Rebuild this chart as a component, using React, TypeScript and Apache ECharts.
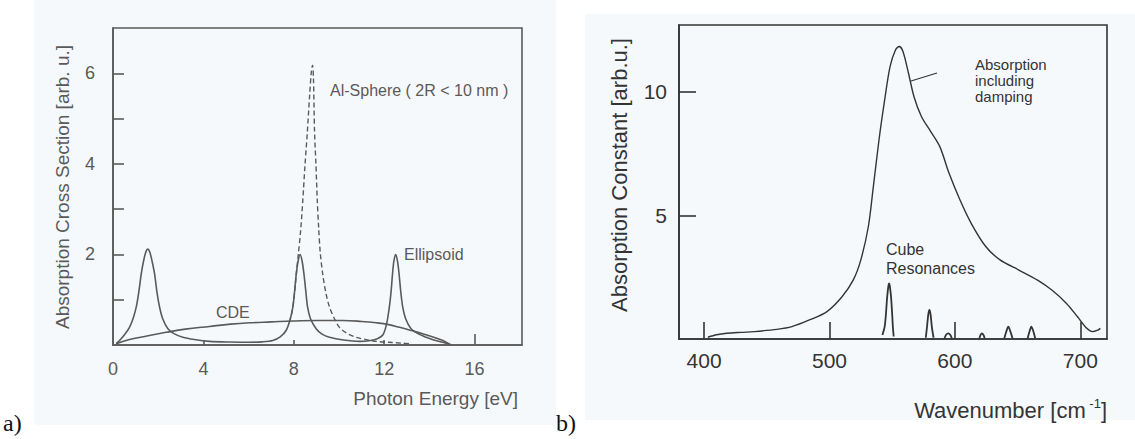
import React, { useEffect, useRef } from "react";
import * as echarts from "echarts";

// ---------- Panel a) : Photon energy [eV] vs absorption cross section ----------
const aXLabels = [0, 4, 8, 12, 16];
const aXTicks = [4, 8, 12];
const aXTickLong = [16];
const aYLabels = [2, 4, 6];
const aYTicks = [1, 2, 3, 4, 5, 6];

const ellipsoid: [number, number][] = [
  [0.14, 0.03], [0.29, 0.1], [0.5, 0.22], [0.73, 0.39], [0.9, 0.6], [1.03, 0.84],
  [1.15, 1.2], [1.25, 1.57], [1.35, 1.85], [1.45, 2.05], [1.54, 2.12], [1.63, 2.05],
  [1.73, 1.85], [1.84, 1.57], [1.95, 1.15], [2.06, 0.84], [2.2, 0.58], [2.43, 0.36],
  [2.7, 0.25], [3.09, 0.17], [3.6, 0.12], [4.27, 0.08], [5.2, 0.065], [6.04, 0.06],
  [6.6, 0.07], [7.07, 0.1], [7.4, 0.18], [7.66, 0.32], [7.85, 0.58], [7.96, 0.84],
  [8.04, 1.2], [8.11, 1.57], [8.19, 1.85], [8.28, 2.0], [8.37, 1.85], [8.45, 1.57],
  [8.53, 1.2], [8.61, 0.84], [8.74, 0.58], [8.99, 0.36], [9.25, 0.24], [9.58, 0.17],
  [10.2, 0.11], [10.9, 0.08], [11.4, 0.1], [11.7, 0.14], [11.94, 0.22], [12.1, 0.45],
  [12.23, 0.84], [12.31, 1.2], [12.37, 1.57], [12.43, 1.85], [12.51, 2.0], [12.59, 1.85],
  [12.66, 1.57], [12.73, 1.2], [12.82, 0.84], [12.95, 0.58], [13.19, 0.36], [13.5, 0.25],
  [13.86, 0.17], [14.2, 0.11], [14.6, 0.06], [14.96, 0.0],
];

const sphere: [number, number][] = [
  [7.8, 0.5], [7.95, 0.8], [8.1, 1.5], [8.2, 2.0], [8.3, 2.5], [8.4, 3.2], [8.5, 4.0],
  [8.6, 4.7], [8.7, 5.5], [8.78, 6.05], [8.83, 6.18], [8.87, 5.9], [8.92, 4.7],
  [8.98, 4.0], [9.04, 3.2], [9.1, 2.6], [9.17, 2.05], [9.28, 1.57], [9.42, 1.15],
  [9.58, 0.84], [9.8, 0.58], [10.02, 0.39], [10.35, 0.26], [10.76, 0.17], [11.2, 0.12],
  [11.65, 0.08], [12.2, 0.06], [12.82, 0.04], [13.1, 0.03],
];

const cde: [number, number][] = [
  [0.14, 0.03], [0.73, 0.12], [1.5, 0.2], [2.35, 0.28], [3.2, 0.35], [4.27, 0.41],
  [5.2, 0.46], [6.04, 0.49], [7.0, 0.51], [7.96, 0.53], [9.0, 0.54], [10.17, 0.54],
  [11.0, 0.52], [11.65, 0.49], [12.2, 0.45], [12.68, 0.39], [13.2, 0.32], [13.7, 0.25],
  [14.2, 0.17], [14.6, 0.1], [14.96, 0.0],
];

// ---------- Panel b) : Wavenumber [cm-1] vs absorption constant ----------
const bXLabels = [400, 500, 600, 700];
const bYLabels = [5, 10];

const damping: [number, number][] = [
  [403, 0.07], [410, 0.17], [418, 0.23], [430, 0.27], [440, 0.3], [458, 0.39],
  [470, 0.5], [484, 0.77], [498, 1.11], [510, 1.71], [519, 2.39], [525, 3.2],
  [531, 4.55], [535, 6.17], [539.5, 8.06], [544, 9.67], [548.3, 11.02], [552.7, 11.7],
  [555.6, 11.83], [558.6, 11.63], [563, 10.75], [567.4, 9.8], [573.3, 9.0], [580.6, 8.4],
  [588, 7.78], [595.3, 6.71], [604, 5.63], [613, 4.68], [624.6, 3.74], [636, 3.2],
  [651, 2.79], [665.6, 2.39], [677.3, 1.98], [689, 1.44], [697.8, 0.9], [705.2, 0.43],
  [709.6, 0.3], [714, 0.36], [716, 0.43],
];

const cube1: [number, number][] = [
  [542.2, 0.16], [544, 0.5], [545, 1.0], [546, 1.7], [547, 2.15], [547.5, 2.25],
  [548.1, 2.15], [549.1, 1.7], [550, 1.0], [550.6, 0.45], [551.2, 0.1],
];
const cube2: [number, number][] = [
  [576.8, 0.05], [577.8, 0.5], [578.8, 1.0], [579.7, 1.18], [580.6, 1.0], [581.6, 0.5], [583, 0.05],
];
const cube3: [number, number][] = [
  [591.7, 0.02], [593, 0.17], [594.7, 0.23], [596.3, 0.17], [597.6, 0.02],
];
const cube4: [number, number][] = [
  [619.5, 0.02], [620.5, 0.17], [621.6, 0.23], [622.7, 0.17], [623.8, 0.02],
];
const cube5: [number, number][] = [
  [639.4, 0.02], [641, 0.3], [642.6, 0.5], [644.3, 0.3], [646, 0.02],
];
const cube6: [number, number][] = [
  [658, 0.02], [659.5, 0.3], [661, 0.5], [662.6, 0.3], [664.1, 0.02],
];
const cubePeaks = [cube1, cube2, cube3, cube4, cube5, cube6];

const FONT = '"Liberation Sans", Arial, Helvetica, sans-serif';
const SERIF = '"Liberation Serif", "DejaVu Serif", serif';
const CA = "#5a5a5a"; // panel a ink
const CB = "#343434"; // panel b ink
const TINT = "#f6f9fb";

function txt(x: number, y: number, text: string, size: number, color: string, align = "left", rotation = 0, family = FONT) {
  return {
    type: "text",
    x,
    y,
    rotation,
    z: 10,
    style: {
      text,
      font: `${size}px ${family}`,
      fill: color,
      align,
      textAlign: align,
      verticalAlign: "middle",
      textVerticalAlign: "middle",
    },
  };
}

export default function App() {
  const ref = useRef<HTMLDivElement>(null);

  useEffect(() => {
    if (!ref.current) return;
    const chart = echarts.init(ref.current, null, { renderer: "svg" });

    const lineA = { color: CA, width: 1.6 };
    const lineB = { color: CB, width: 1.6 };

    const option: any = {
      animation: false,
      backgroundColor: "#ffffff",
      grid: [
        { left: 113, top: 28, width: 409, height: 317, show: true, borderColor: CA, borderWidth: 1.6, backgroundColor: "transparent" },
        { left: 679, top: 25, width: 428, height: 314, show: true, borderColor: CB, borderWidth: 1.6, backgroundColor: "transparent" },
      ],
      xAxis: [
        {
          gridIndex: 0, type: "value", min: 0, max: 18.1,
          axisLine: { show: true, lineStyle: lineA },
          axisTick: { show: true, inside: true, length: 5, customValues: aXTicks, lineStyle: lineA },
          axisLabel: { customValues: aXLabels, margin: 15, fontSize: 18, color: CA, fontFamily: FONT },
          splitLine: { show: false },
        },
        {
          gridIndex: 0, type: "value", min: 0, max: 18.1, position: "bottom",
          axisLine: { show: false },
          axisTick: { show: true, inside: true, length: 11, customValues: aXTickLong, lineStyle: lineA },
          axisLabel: { show: false },
          splitLine: { show: false },
        },
        {
          gridIndex: 1, type: "value", min: 380, max: 721.3,
          axisLine: { show: true, lineStyle: lineB },
          axisTick: { show: true, inside: true, length: 17, customValues: bXLabels, lineStyle: lineB },
          axisLabel: { customValues: bXLabels, margin: 11, fontSize: 21, color: CB, fontFamily: FONT },
          splitLine: { show: false },
        },
      ],
      yAxis: [
        {
          gridIndex: 0, type: "value", min: 0, max: 7,
          axisLine: { show: true, lineStyle: lineA },
          axisTick: { show: true, inside: true, length: 11, customValues: aYTicks, lineStyle: lineA },
          axisLabel: { customValues: aYLabels, margin: 18, fontSize: 18, color: CA, fontFamily: FONT },
          splitLine: { show: false },
        },
        {
          gridIndex: 1, type: "value", min: 0, max: 12.7,
          axisLine: { show: true, lineStyle: lineB },
          axisTick: { show: true, inside: true, length: 17, customValues: bYLabels, lineStyle: lineB },
          axisLabel: { customValues: bYLabels, margin: 12, fontSize: 21, color: CB, fontFamily: FONT },
          splitLine: { show: false },
        },
      ],
      series: [
        { name: "Ellipsoid", type: "line", xAxisIndex: 0, yAxisIndex: 0, data: ellipsoid, showSymbol: false, symbol: "none", smooth: 0.3, lineStyle: lineA },
        { name: "Al-Sphere", type: "line", xAxisIndex: 0, yAxisIndex: 0, data: sphere, showSymbol: false, symbol: "none", smooth: 0.3, lineStyle: { ...lineA, width: 1.4, type: [5, 3] } },
        { name: "CDE", type: "line", xAxisIndex: 0, yAxisIndex: 0, data: cde, showSymbol: false, symbol: "none", smooth: 0.4, lineStyle: lineA },
        { name: "Absorption including damping", type: "line", xAxisIndex: 2, yAxisIndex: 1, data: damping, showSymbol: false, symbol: "none", smooth: 0.3, lineStyle: { ...lineB, width: 1.4 } },
        ...cubePeaks.map((d, i) => ({
          name: `Cube resonance ${i + 1}`, type: "line", xAxisIndex: 2, yAxisIndex: 1, data: d,
          showSymbol: false, symbol: "none", smooth: 0.3, lineStyle: { ...lineB, width: 1.8 },
        })),
      ],
      graphic: [
        { type: "rect", z: -10, shape: { x: 34, y: 0, width: 522, height: 425 }, style: { fill: TINT }, silent: true },
        { type: "rect", z: -10, shape: { x: 585, y: 14, width: 550, height: 406 }, style: { fill: TINT }, silent: true },
        txt(62, 187, "Absorption Cross Section [arb. u.]", 19, CA, "center", Math.PI / 2),
        txt(518, 398, "Photon Energy [eV]", 19, CA, "right"),
        txt(330, 90, "Al-Sphere ( 2R < 10 nm )", 16, CA, "left"),
        txt(404, 254, "Ellipsoid", 16, CA, "left"),
        txt(216, 312, "CDE", 16, CA, "left"),
        txt(619, 175, "Absorption Constant [arb.u.]", 22, CB, "center", Math.PI / 2),
        {
          type: "text", x: 1107, y: 410, z: 10,
          style: {
            text: "{a|Wavenumber [cm}{s| -1}{a|]}",
            align: "right", textAlign: "right", verticalAlign: "middle", textVerticalAlign: "middle",
            fill: CB,
            rich: {
              a: { fontSize: 22, fontFamily: FONT, color: CB, lineHeight: 26 },
              s: { fontSize: 13, fontFamily: FONT, color: CB, lineHeight: 14, verticalAlign: "top" },
            },
          },
        },
        txt(975, 64, "Absorption", 15, CB, "left"),
        txt(975, 80, "including", 15, CB, "left"),
        txt(975, 96, "damping", 15, CB, "left"),
        { type: "line", z: 10, shape: { x1: 911, y1: 81, x2: 937, y2: 73 }, style: { stroke: CB, lineWidth: 1.2 } },
        txt(886, 249, "Cube", 16, CB, "left"),
        txt(886, 268, "Resonances", 16, CB, "left"),
        txt(3, 423, "a)", 24, "#111", "left", 0, SERIF),
        txt(556, 423, "b)", 24, "#111", "left", 0, SERIF),
      ],
    };

    chart.setOption(option);
    return () => chart.dispose();
  }, []);

  return <div ref={ref} style={{ position: "fixed", left: 0, top: 0, width: 1135, height: 439 }} />;
}
